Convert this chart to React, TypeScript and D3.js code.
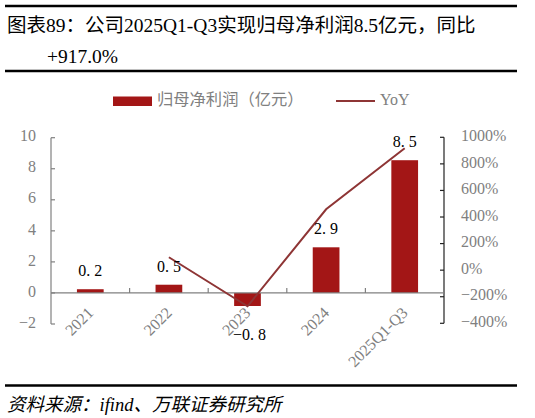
import React from "react";
import * as d3 from "d3";

const categories = ["2021", "2022", "2023", "2024", "2025Q1-Q3"];
const netProfit = [0.24, 0.53, -0.84, 2.94, 8.55];
const netProfitLabels = ["0.2", "0.5", "-0.8", "2.9", "8.5"];
const yoy: (number | null)[] = [null, 97, -272, 458, 917];
const leftTicks = [-2, 0, 2, 4, 6, 8, 10];
const rightTicks = [-400, -200, 0, 200, 400, 600, 800, 1000];

const W = 535;
const H = 418;
const BAR = "#A31616";
const LINE = "#8E3535";
const GRAY = "#808080";
const LATIN = "'Liberation Serif', 'DejaVu Serif', 'Noto Sans CJK SC', serif";
const CJK = "'Liberation Serif', 'Noto Sans CJK SC', serif";

export default function App() {
  const x = d3.scaleBand<string>().domain(categories).range([51, 444]).padding(0);
  const yL = d3.scaleLinear().domain([-2, 10]).range([324, 137.7]);
  const yR = d3.scaleLinear().domain([-400, 1000]).range([323.3, 137.3]);
  const bw = x.bandwidth() * 0.34;
  const cx = (c: string) => (x(c) as number) + x.bandwidth() / 2;
  const y0 = yL(0);

  const pts = categories
    .map((c, i) => ({ c, v: yoy[i] }))
    .filter((d) => d.v !== null) as { c: string; v: number }[];
  const line = d3
    .line<{ c: string; v: number }>()
    .x((d) => cx(d.c))
    .y((d) => yR(d.v));

  const fmtLabel = (s: string) => s.replace(".", ". ").replace("-", "\u2212");

  return (
    <svg
      width={W}
      height={H}
      style={{ position: "absolute", left: 0, top: 0, background: "#fff" }}
    >
      {/* header rules */}
      <line x1={5} x2={517} y1={6} y2={6} stroke="#000" strokeWidth={2.5} />
      <text x={7} y={32} fontSize={19.5} fontFamily={CJK} fill="#000">
        图表89：公司2025Q1-Q3实现归母净利润8.5亿元，同比
      </text>
      <text x={47} y={63} fontSize={19.5} fontFamily={CJK} fill="#000">
        +917.0%
      </text>
      <line x1={5} x2={517} y1={71} y2={71} stroke="#000" strokeWidth={2.5} />

      {/* legend */}
      <rect x={113} y={96.5} width={39} height={9.5} fill={BAR} />
      <text x={157} y={101} fontSize={16.3} fontFamily={CJK} fill={GRAY} dominantBaseline="middle">
        归母净利润（亿元）
      </text>
      <line x1={336} x2={375} y1={101} y2={101} stroke={LINE} strokeWidth={2} />
      <text x={380} y={101} fontSize={16} fontFamily={LATIN} fill={GRAY} dominantBaseline="middle">
        YoY
      </text>

      {/* left axis */}
      <line x1={51} x2={51} y1={yL(10)} y2={yL(-2)} stroke={GRAY} strokeWidth={1.2} />
      {leftTicks.map((t) => (
        <g key={"l" + t}>
          <line x1={51} x2={55} y1={yL(t)} y2={yL(t)} stroke={GRAY} strokeWidth={1.2} />
          <text
            x={36}
            y={yL(t)}
            fontSize={16}
            fontFamily={LATIN}
            fill={GRAY}
            textAnchor="end"
            dominantBaseline="middle"
          >
            {t < 0 ? "\u2212" + Math.abs(t) : t}
          </text>
        </g>
      ))}

      {/* right axis */}
      <line x1={444} x2={444} y1={yR(1000)} y2={yR(-400)} stroke="#222" strokeWidth={1.2} />
      {rightTicks.map((t) => (
        <g key={"r" + t}>
          <line x1={440} x2={444} y1={yR(t)} y2={yR(t)} stroke="#222" strokeWidth={1.2} />
          <text
            x={461}
            y={yR(t)}
            fontSize={16}
            fontFamily={LATIN}
            fill={GRAY}
            dominantBaseline="middle"
          >
            {(t < 0 ? "\u2212" + Math.abs(t) : t) + "%"}
          </text>
        </g>
      ))}

      {/* bars */}
      {categories.map((c, i) => {
        const v = netProfit[i];
        return (
          <rect
            key={"b" + c}
            x={cx(c) - bw / 2}
            y={Math.min(yL(v), y0)}
            width={bw}
            height={Math.abs(yL(v) - y0)}
            fill={BAR}
          />
        );
      })}

      {/* category axis */}
      <line x1={51} x2={444} y1={y0} y2={y0} stroke={GRAY} strokeWidth={1.2} />
      {categories.slice(1).map((c) => (
        <line
          key={"t" + c}
          x1={x(c) as number}
          x2={x(c) as number}
          y1={y0}
          y2={y0 - 5}
          stroke={GRAY}
          strokeWidth={1.2}
        />
      ))}

      {/* line */}
      <path d={line(pts) || ""} fill="none" stroke={LINE} strokeWidth={2} />

      {/* category labels */}
      {categories.map((c) => (
        <text
          key={"c" + c}
          transform={`translate(${cx(c) + 4},${y0 + 21}) rotate(-45)`}
          fontSize={16}
          fontFamily={LATIN}
          fill={GRAY}
          textAnchor="end"
        >
          {c}
        </text>
      ))}

      {/* data labels */}
      {categories.map((c, i) => {
        const v = netProfit[i];
        const yy = v >= 0 ? yL(v) - 13 : yL(v) + 34;
        return (
          <text
            key={"d" + c}
            x={cx(c) + (v < 0 ? 2 : 0)}
            y={yy}
            fontSize={16}
            fontFamily={LATIN}
            fill="#000"
            textAnchor="middle"
          >
            {fmtLabel(netProfitLabels[i])}
          </text>
        );
      })}

      {/* footer */}
      <line x1={5} x2={517} y1={385.5} y2={385.5} stroke="#000" strokeWidth={2.5} />
      <text x={7} y={411} fontSize={18.5} fontFamily={CJK} fontStyle="italic" fill="#000">
        资料来源：ifind、万联证券研究所
      </text>
    </svg>
  );
}
